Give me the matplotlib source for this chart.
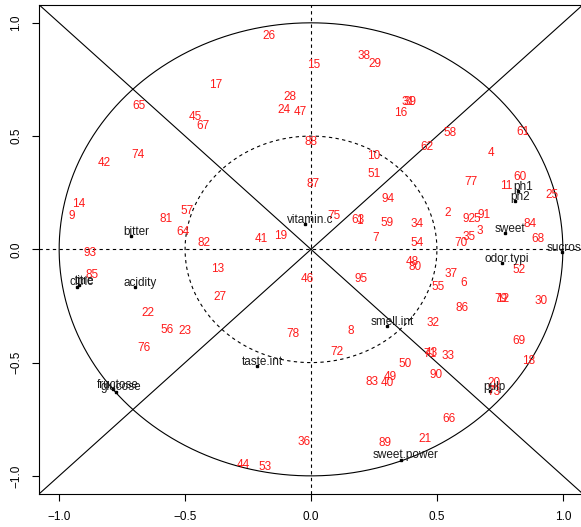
import numpy as np
import matplotlib
matplotlib.use("Agg")
import matplotlib.pyplot as plt

plt.rcParams['font.family'] = ['Liberation Sans', 'DejaVu Sans']

# Individuals (red numbers) on the first factorial plane
ind_labels = [str(i) for i in range(1, 96)]
ind_x = [0.193, 0.542, 0.671, 0.714, 0.657, 0.608, 0.255, 0.159, -0.950, 0.249,
         0.776, 0.760, -0.372, -0.923, 0.012, 0.357, -0.380, 0.866, -0.119, 0.727,
         0.452, -0.648, -0.499, -0.106, 0.958, -0.165, -0.361, -0.085, 0.254, 0.914,
         0.387, 0.485, 0.545, 0.423, 0.627, -0.029, 0.558, 0.210, 0.393, 0.304,
         -0.196, -0.820, 0.479, -0.267, -0.460, -0.015, -0.042, 0.402, 0.316, 0.373,
         0.249, 0.828, -0.184, 0.423, 0.505, -0.573, -0.492, 0.554, 0.302, 0.829,
         0.840, 0.462, 0.187, -0.508, -0.681, 0.546, -0.427, 0.902, 0.825, 0.596,
         0.474, 0.102, 0.727, -0.685, 0.091, -0.664, 0.634, -0.071, 0.756, 0.413,
         -0.577, -0.425, 0.242, 0.868, -0.869, 0.598, 0.009, 0.000, 0.294, 0.496,
         0.688, 0.629, -0.878, 0.307, 0.200]
ind_y = [0.127, 0.159, 0.080, 0.427, 0.134, -0.147, 0.052, -0.360, 0.149, 0.411,
         0.281, -0.221, -0.088, 0.202, 0.815, 0.603, 0.725, -0.492, 0.061, -0.589,
         -0.838, -0.279, -0.360, 0.616, 0.240, 0.943, -0.211, 0.672, 0.818, -0.226,
         0.652, -0.325, -0.469, 0.113, 0.056, -0.850, -0.107, 0.853, 0.652, -0.588,
         0.046, 0.380, -0.458, -0.950, 0.585, -0.129, 0.607, -0.054, -0.564, -0.504,
         0.331, -0.089, -0.959, 0.030, -0.164, -0.356, 0.169, 0.513, 0.115, 0.321,
         0.519, 0.453, 0.129, 0.077, 0.633, -0.747, 0.546, 0.047, -0.404, 0.030,
         -0.461, -0.453, -0.629, 0.418, 0.149, -0.435, 0.297, -0.373, -0.217, -0.079,
         0.135, 0.030, -0.584, 0.111, -0.113, -0.257, 0.288, 0.472, -0.854, -0.553,
         0.153, 0.134, -0.015, 0.222, -0.129]

# Variables (black points with names)
var_names = ["bitter", "acidity", "citric", "titre", "fructose", "glucose",
             "vitamin.c", "taste.int", "smell.int", "sweet.power", "pulp",
             "odor.typi", "sweet", "sucrose", "ph1", "ph2"]
var_x = [-0.714, -0.697, -0.930, -0.920, -0.787, -0.774, -0.023, -0.213, 0.303,
         0.357, 0.710, 0.758, 0.771, 0.998, 0.823, 0.810]
var_y = [0.058, -0.166, -0.165, -0.158, -0.616, -0.629, 0.112, -0.516, -0.338,
         -0.929, -0.625, -0.061, 0.072, -0.013, 0.258, 0.213]

ticks = [-1.0, -0.5, 0.0, 0.5, 1.0]
tick_labels = ["\u22121.0", "\u22120.5", "0.0", "0.5", "1.0"]

W, H = 581, 527
fig = plt.figure(figsize=(W / 100, H / 100), dpi=100)
ax = fig.add_axes([39 / W, 33 / H, (583 - 39) / W, (494 - 4.7) / H])
lim = 1.08
ax.set_xlim(-lim, lim)
ax.set_ylim(-lim, lim)

# Reference lines: unit circle, half circle, axes and diagonals
t = np.linspace(0, 2 * np.pi, 400)
ax.plot(np.cos(t), np.sin(t), color='black', lw=0.8)
ax.plot(0.5 * np.cos(t), 0.5 * np.sin(t), color='black', lw=0.8, ls=(0, (3, 3)))
ax.axhline(0, color='black', lw=0.8, ls=(0, (3, 3)))
ax.axvline(0, color='black', lw=0.8, ls=(0, (3, 3)))
ax.axline((0, 0), slope=1, color='black', lw=0.8)
ax.axline((0, 0), slope=-1, color='black', lw=0.8)

for lab, x, y in zip(ind_labels, ind_x, ind_y):
    ax.text(x, y, lab, color='#ff1a1a', fontsize=8.5, ha='center', va='center')

ax.plot(var_x, var_y, ls='none', marker='s', ms=1.8, color='black')
for name, x, y in zip(var_names, var_x, var_y):
    ax.annotate(name, (x, y), xytext=(3.6, 1.0), textcoords='offset points',
                ha='center', va='baseline', fontsize=8.5, color='#1a1a1a')

ax.set_xticks(ticks)
ax.set_xticklabels(tick_labels)
ax.set_yticks(ticks)
ax.set_yticklabels(tick_labels, rotation=90, va='center')
ax.tick_params(direction='out', length=5, width=0.8, labelsize=8.5, pad=7)
for s in ax.spines.values():
    s.set_linewidth(0.8)

fig.savefig("out.png", dpi=100)
